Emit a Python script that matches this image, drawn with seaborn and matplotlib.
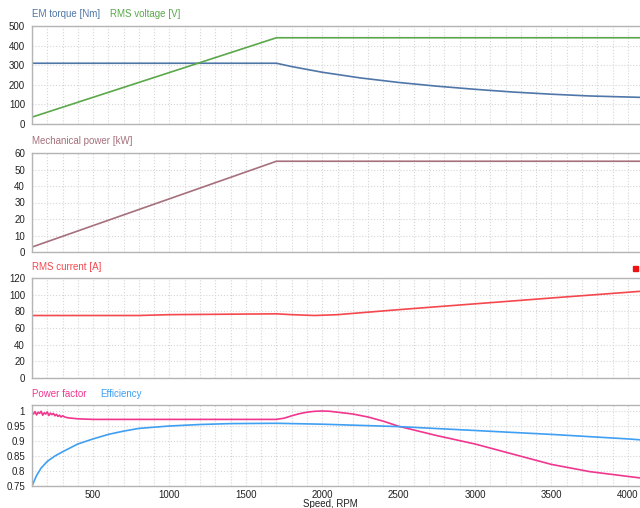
import matplotlib
matplotlib.use("Agg")
import matplotlib.pyplot as plt
from matplotlib.ticker import MultipleLocator, FixedLocator
import seaborn as sns

sns.set_style("white")
plt.rcParams["font.family"] = ["Liberation Sans", "DejaVu Sans"]

# Motor operating curves versus shaft speed
speed_torque = [100, 1700, 1800, 2000, 2250, 2500, 2750, 3000, 3250, 3500, 3750, 4080]
torque_nm = [310, 310, 293, 264, 235, 212, 193, 177, 163, 152, 143, 136]

speed_voltage = [100, 1700, 4080]
voltage_v = [35, 440, 440]

speed_power = [100, 1700, 4080]
power_kw = [3, 55, 55]

speed_current = [100, 800, 1000, 1700, 1800, 1950, 2100, 2500, 3000, 3500, 4080]
current_a = [75, 75, 76, 77, 76, 75, 76, 82, 89, 96, 104]

speed_pf = [100, 110, 120, 130, 140, 150, 160, 170, 180, 190, 200, 210, 220, 230,
            240, 250, 260, 270, 280, 290, 300, 320, 340, 360, 380, 400, 450, 500,
            1700, 1750, 1800, 1850, 1900, 1950, 2000, 2050, 2100, 2200, 2300, 2400,
            2500, 2750, 3000, 3250, 3500, 3750, 4000, 4080]
power_factor = [0.995, 0.99, 0.998, 0.987, 0.996, 0.992, 0.999, 0.986, 0.994, 0.99,
                0.997, 0.985, 0.993, 0.988, 0.992, 0.984, 0.989, 0.982, 0.986, 0.98,
                0.984, 0.979, 0.977, 0.976, 0.975, 0.974, 0.973, 0.972,
                0.972, 0.976, 0.984, 0.991, 0.996, 0.999, 1.0, 0.999, 0.996, 0.99,
                0.98, 0.966, 0.949, 0.918, 0.89, 0.856, 0.822, 0.798, 0.782, 0.777]

speed_eff = [100, 130, 160, 200, 250, 300, 400, 500, 600, 700, 800, 1000, 1200,
             1400, 1700, 2000, 2500, 3000, 3500, 4000, 4080]
efficiency = [0.75, 0.785, 0.81, 0.832, 0.85, 0.864, 0.89, 0.907, 0.922, 0.933,
              0.942, 0.95, 0.955, 0.958, 0.959, 0.956, 0.948, 0.935, 0.922, 0.907, 0.904]

x_ticks = [500, 1000, 1500, 2000, 2500, 3000, 3500, 4000]

c_torque = "#4f76a8"
c_voltage = "#5aa84a"
c_power = "#a5707c"
c_current = "#f4484e"
c_pf = "#f0368f"
c_eff = "#3f9ff2"

W, H = 640, 508
fig = plt.figure(figsize=(W / 100, H / 100), dpi=100)


def panel(top_px, bottom_px):
    ax = fig.add_axes([32 / W, 1 - bottom_px / H, 1 - 32 / W, (bottom_px - top_px) / H])
    ax.set_xlim(100, 4080)
    ax.xaxis.set_major_locator(FixedLocator(x_ticks))
    ax.xaxis.set_minor_locator(MultipleLocator(100))
    ax.grid(True, which="both", axis="x", color="#d6d6d6", linestyle=":", linewidth=0.8)
    ax.grid(True, which="major", axis="y", color="#d6d6d6", linestyle=":", linewidth=0.8)
    for side in ["left", "top", "bottom"]:
        ax.spines[side].set_color("#b4b4b4")
        ax.spines[side].set_linewidth(1.0)
    ax.spines["right"].set_visible(False)
    ax.tick_params(axis="y", length=0, labelsize=7, colors="#222222", pad=5)
    ax.tick_params(axis="x", length=0, labelsize=7, colors="#222222", pad=3)
    ax.set_xlabel("")
    ax.set_ylabel("")
    return ax


def title(x_px, y_px, text, color):
    fig.text(x_px / W, 1 - y_px / H, text, color=color, fontsize=7, va="center", ha="left")


# Torque and voltage
ax1 = panel(26, 124)
sns.lineplot(x=speed_torque, y=torque_nm, ax=ax1, color=c_torque, linewidth=1.2)
sns.lineplot(x=speed_voltage, y=voltage_v, ax=ax1, color=c_voltage, linewidth=1.2)
ax1.set_ylim(0, 500)
ax1.yaxis.set_major_locator(MultipleLocator(100))
ax1.tick_params(axis="x", labelbottom=False)
title(32, 14, "EM torque [Nm]", c_torque)
title(110, 14, "RMS voltage [V]", c_voltage)

# Mechanical power
ax2 = panel(153, 252)
sns.lineplot(x=speed_power, y=power_kw, ax=ax2, color=c_power, linewidth=1.2)
ax2.set_ylim(0, 60)
ax2.yaxis.set_major_locator(MultipleLocator(10))
ax2.tick_params(axis="x", labelbottom=False)
title(32, 141, "Mechanical power [kW]", c_power)

# Current
ax3 = panel(278, 378)
sns.lineplot(x=speed_current, y=current_a, ax=ax3, color=c_current, linewidth=1.2)
ax3.set_ylim(0, 120)
ax3.yaxis.set_major_locator(MultipleLocator(20))
ax3.tick_params(axis="x", labelbottom=False)
title(32, 267, "RMS current [A]", c_current)
fig.patches.append(plt.Rectangle(((W - 7) / W, 1 - 271 / H), 5 / W, 5 / H,
                                 transform=fig.transFigure, color="#ee1111", figure=fig))

# Power factor and efficiency
ax4 = panel(405, 486)
sns.lineplot(x=speed_pf, y=power_factor, ax=ax4, color=c_pf, linewidth=1.2)
sns.lineplot(x=speed_eff, y=efficiency, ax=ax4, color=c_eff, linewidth=1.2)
ax4.set_ylim(0.75, 1.02)
ax4.yaxis.set_major_locator(FixedLocator([0.75, 0.8, 0.85, 0.9, 0.95, 1.0]))
ax4.set_yticklabels(["0.75", "0.8", "0.85", "0.9", "0.95", "1"])
ax4.set_xticklabels([str(v) for v in x_ticks])
title(32, 394, "Power factor", c_pf)
title(100, 394, "Efficiency", c_eff)

fig.text(330 / W, 1 - 504 / H, "Speed, RPM", fontsize=7, color="#222222", ha="center", va="center")

fig.savefig("out.png", dpi=100, facecolor="white")
